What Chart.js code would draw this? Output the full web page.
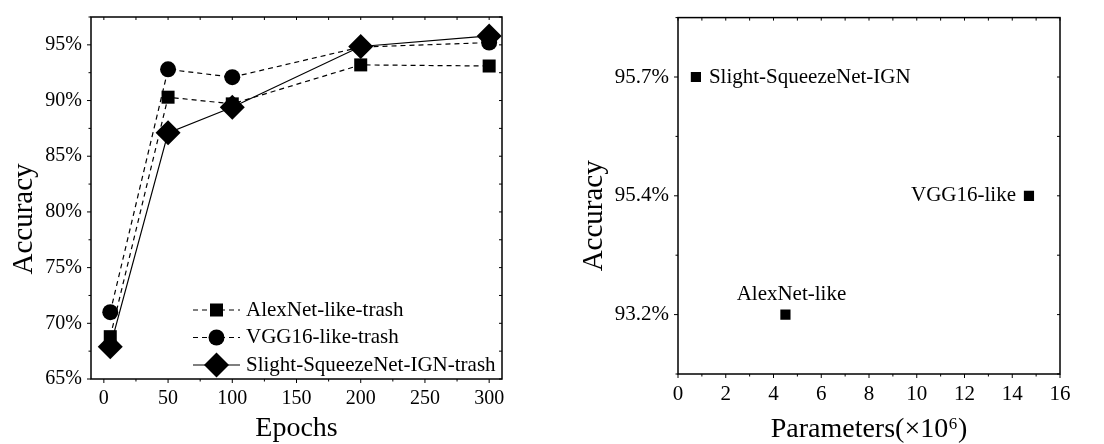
<!DOCTYPE html>
<html>
<head>
<meta charset="utf-8">
<script src="https://cdn.jsdelivr.net/npm/chart.js@4.4.0/dist/chart.umd.min.js"></script>
<style>
body { margin: 0; background: #fff; }
#wrap { position: relative; width: 1104px; height: 444px; }
canvas { position: absolute; top: 0; }
</style>
</head>
<body>
<div id="wrap">
<canvas id="Canvas1" width="552" height="444" style="left:0"></canvas>
<canvas id="Canvas2" width="552" height="444" style="left:552px"></canvas>
</div>
<script>
// data, left chart
var epochs = [5, 50, 100, 200, 300];
var alexTrash = [68.8, 90.3, 89.7, 93.2, 93.1];
var vggTrash = [71.0, 92.8, 92.1, 94.8, 95.2];
var slightTrash = [67.9, 87.1, 89.4, 94.85, 95.8];
var seriesNames = ['AlexNet-like-trash', 'VGG16-like-trash', 'Slight-SqueezeNet-IGN-trash'];

// data, right chart
var models = ['Slight-SqueezeNet-IGN', 'VGG16-like', 'AlexNet-like'];
var params = [0.75, 14.7, 4.5];
var accuracy = [95.7, 95.4, 93.2];
var accLabels = accuracy.map(function (v) { return v.toFixed(1) + '%'; });

// where each model name sits next to its point
var labelPlace = ['right', 'left', 'above'];

Chart.defaults.font.family = '"Liberation Serif", "Times New Roman", serif';
Chart.defaults.color = '#000';
Chart.defaults.animation = false;

function toXY(xs, ys) {
    return xs.map(function (x, i) { return {x: x, y: ys[i]}; });
}

// box around the plot + small ticks (outward on left/bottom, inward on top/right)
var framePlugin = {
    id: 'frame',
    afterDraw: function (chart, args, opts) {
        var ctx = chart.ctx, a = chart.chartArea;
        var xs = chart.scales.x, ys = chart.scales.y;
        ctx.save();
        ctx.strokeStyle = '#000';
        ctx.lineWidth = 1.5;
        ctx.strokeRect(a.left, a.top, a.right - a.left, a.bottom - a.top);
        ctx.lineWidth = 1;
        ctx.beginPath();
        var v, p, len;
        for (v = opts.x.from; v <= opts.x.to + 1e-9; v += opts.x.step) {
            p = xs.getPixelForValue(v);
            len = Math.abs(v / opts.x.major - Math.round(v / opts.x.major)) < 1e-6 ? 4 : 2.5;
            ctx.moveTo(p, a.bottom); ctx.lineTo(p, a.bottom + len);
            ctx.moveTo(p, a.top); ctx.lineTo(p, a.top + 3);
        }
        for (v = opts.y.from; v <= opts.y.to + 1e-9; v += opts.y.step) {
            p = ys.getPixelForValue(v);
            len = Math.abs(v / opts.y.major - Math.round(v / opts.y.major)) < 1e-6 ? 4 : 2.5;
            ctx.moveTo(a.left, p); ctx.lineTo(a.left - len, p);
            ctx.moveTo(a.right, p); ctx.lineTo(a.right - 3, p);
        }
        ctx.stroke();

        // y title, sits a bit below the middle of the axis like the original
        ctx.font = opts.titleFont;
        ctx.fillStyle = '#000';
        ctx.textAlign = 'center';
        ctx.textBaseline = 'middle';
        ctx.translate(opts.titleX, (a.top + a.bottom) / 2 + opts.titleShift);
        ctx.rotate(-Math.PI / 2);
        ctx.fillText(opts.title, 0, 0);
        ctx.restore();
    }
};

// legend drawn inside the plot, line sample + marker + name
var innerLegend = {
    id: 'innerLegend',
    afterDatasetsDraw: function (chart, args, opts) {
        var ctx = chart.ctx, a = chart.chartArea;
        var sets = chart.data.datasets;
        ctx.save();
        ctx.font = opts.font;
        ctx.textBaseline = 'middle';
        ctx.fillStyle = '#000';
        ctx.strokeStyle = '#000';
        sets.forEach(function (ds, i) {
            var y = a.bottom - opts.bottom - (sets.length - 1 - i) * opts.row;
            var x0 = a.left + opts.left;
            ctx.lineWidth = ds.borderWidth;
            ctx.setLineDash(ds.borderDash || []);
            ctx.beginPath();
            ctx.moveTo(x0, y);
            ctx.lineTo(x0 + opts.lineLength, y);
            ctx.stroke();
            ctx.setLineDash([]);
            Chart.helpers.drawPoint(ctx, {pointStyle: ds.pointStyle, radius: ds.pointRadius, rotation: 0, borderWidth: 0}, x0 + opts.lineLength / 2, y);
            ctx.fillText(ds.label, x0 + opts.lineLength + opts.gap, y);
        });
        ctx.restore();
    }
};

// model names next to the scatter points
var pointNames = {
    id: 'pointNames',
    afterDatasetsDraw: function (chart, args, opts) {
        var ctx = chart.ctx;
        var meta = chart.getDatasetMeta(0);
        ctx.save();
        ctx.font = opts.font;
        ctx.fillStyle = '#000';
        meta.data.forEach(function (pt, i) {
            var place = labelPlace[i];
            if (place === 'right') {
                ctx.textAlign = 'left'; ctx.textBaseline = 'middle';
                ctx.fillText(models[i], pt.x + 13, pt.y);
            } else if (place === 'left') {
                ctx.textAlign = 'right'; ctx.textBaseline = 'middle';
                ctx.fillText(models[i], pt.x - 13, pt.y);
            } else {
                ctx.textAlign = 'center'; ctx.textBaseline = 'middle';
                ctx.fillText(models[i], pt.x + 6, pt.y - 20);
            }
        });
        ctx.restore();
    }
};

// Canvas 1
var ctx1 = document.getElementById('Canvas1').getContext('2d');
var lineChart = new Chart(ctx1, {
    type: 'line',
    data: {
        datasets: [{
            label: seriesNames[0],
            data: toXY(epochs, alexTrash),
            borderColor: '#000',
            backgroundColor: '#000',
            borderWidth: 1.2,
            borderDash: [5, 4],
            pointStyle: 'rect',
            pointRadius: 9.2,
            pointBorderWidth: 0,
            order: 2
        }, {
            label: seriesNames[1],
            data: toXY(epochs, vggTrash),
            borderColor: '#000',
            backgroundColor: '#000',
            borderWidth: 1.2,
            borderDash: [5, 4],
            pointStyle: 'circle',
            pointRadius: 8,
            pointBorderWidth: 0,
            order: 1
        }, {
            label: seriesNames[2],
            data: toXY(epochs, slightTrash),
            borderColor: '#000',
            backgroundColor: '#000',
            borderWidth: 1.2,
            pointStyle: 'rectRot',
            pointRadius: 12.5,
            pointBorderWidth: 0,
            order: 0
        }]
    },
    options: {
        responsive: false,
        layout: {padding: {left: 0, top: 16, right: 50, bottom: 0}},
        plugins: {
            legend: {display: false},
            tooltip: {enabled: false},
            frame: {x: {from: 0, to: 300, step: 25, major: 50}, y: {from: 65, to: 97.5, step: 2.5, major: 5},
                title: 'Accuracy', titleFont: '29px "Liberation Serif"', titleX: 24, titleShift: 21},
            innerLegend: {font: '21px "Liberation Serif"', left: 102, bottom: 14, row: 27.5, lineLength: 47, gap: 6}
        },
        scales: {
            x: {
                type: 'linear',
                min: -10,
                max: 310,
                grid: {display: false, drawTicks: true, tickLength: 4},
                border: {display: false},
                ticks: {stepSize: 50, includeBounds: false, padding: 4, font: {size: 20}},
                title: {display: true, text: 'Epochs', font: {size: 28, lineHeight: 1.1}, padding: {top: 0, bottom: 0}},
                afterFit: function (s) { s.height = 65; }
            },
            y: {
                min: 65,
                max: 97.5,
                grid: {display: false, drawTicks: true, tickLength: 4},
                border: {display: false},
                ticks: {stepSize: 5, includeBounds: false, padding: 5, font: {size: 20},
                    callback: function (v) { return v + '%'; }},
                afterFit: function (s) { s.width = 91; }
            }
        }
    },
    plugins: [framePlugin, innerLegend]
});

// Canvas 2
var ctx2 = document.getElementById('Canvas2').getContext('2d');
var scatterChart = new Chart(ctx2, {
    type: 'scatter',
    data: {
        datasets: [{
            label: 'Models',
            data: toXY(params, accLabels),
            borderColor: '#000',
            backgroundColor: '#000',
            pointStyle: 'rect',
            pointRadius: 7.2,
            pointBorderWidth: 0
        }]
    },
    options: {
        responsive: false,
        layout: {padding: {left: 0, top: 12, right: 44, bottom: 0}},
        plugins: {
            legend: {display: false},
            tooltip: {enabled: false},
            frame: {x: {from: 0, to: 16, step: 1, major: 2}, y: {from: -0.5, to: 2.5, step: 0.5, major: 1},
                title: 'Accuracy', titleFont: '29px "Liberation Serif"', titleX: 42, titleShift: 20},
            pointNames: {font: '21px "Liberation Serif"'}
        },
        scales: {
            x: {
                type: 'linear',
                min: 0,
                max: 16,
                grid: {display: false, drawTicks: true, tickLength: 4},
                border: {display: false},
                ticks: {stepSize: 2, padding: 4, font: {size: 21}},
                title: {display: true, text: 'Parameters(\u00d710\u2076)', font: {size: 28, lineHeight: 1}, padding: {top: 0, bottom: 0}},
                afterFit: function (s) { s.height = 70; }
            },
            y: {
                type: 'category',
                labels: accLabels,
                offset: true,
                grid: {display: false, drawTicks: true, tickLength: 4, offset: false},
                border: {display: false},
                ticks: {padding: 5, font: {size: 21}},
                afterFit: function (s) { s.width = 126; }
            }
        }
    },
    plugins: [framePlugin, pointNames]
});
</script>
</body>
</html>
